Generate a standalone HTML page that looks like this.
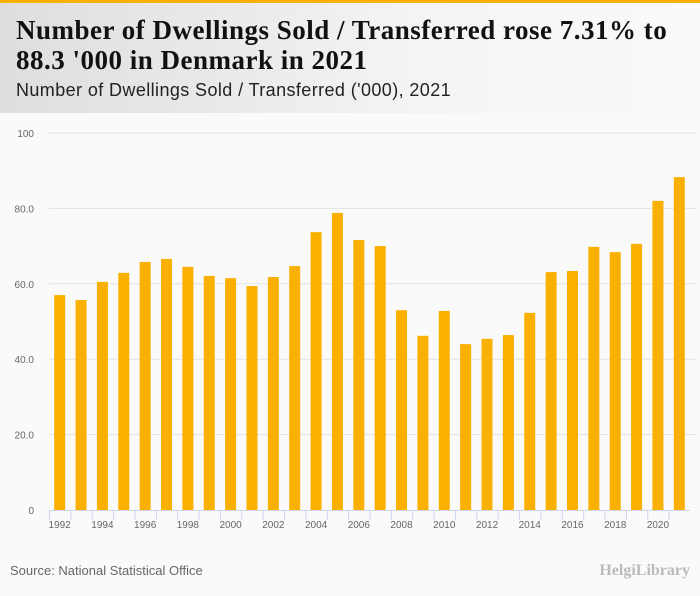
<!DOCTYPE html>
<html><head><meta charset="utf-8"><style>
body{margin:0;width:700px;height:596px;background:#fafafa;font-family:"Liberation Sans",sans-serif;overflow:hidden;position:relative}
#hdr{position:absolute;left:0;top:0;width:700px;height:113px;background:linear-gradient(90deg,#dedede,#f4f4f4 60%,#fafafa)}
#bar{position:absolute;left:0;top:0;width:700px;height:3px;background:#f9b000}
#t{position:absolute;left:16px;top:15px;font:bold 27px/30px "Liberation Serif",serif;color:#111;letter-spacing:0.5px;white-space:nowrap}
#st{position:absolute;left:16px;top:80px;font:18px "Liberation Sans",sans-serif;color:#222;letter-spacing:0.4px;white-space:nowrap}
#src{position:absolute;left:10px;top:563px;font:13px "Liberation Sans",sans-serif;color:#666}
#logo{position:absolute;right:10px;top:562px;font:bold 16px "Liberation Serif",serif;color:#bbb}
</style></head><body>
<div id="hdr"></div>
<div id="bar"></div>
<div id="t">Number of Dwellings Sold / Transferred rose 7.31% to<br>88.3 '000 in Denmark in 2021</div>
<div id="st">Number of Dwellings Sold / Transferred ('000), 2021</div>
<svg id="c" width="700" height="596" style="position:absolute;left:0;top:0"></svg>
<div id="src">Source: National Statistical Office</div>
<div id="logo">HelgiLibrary</div>
<script>
const years=[1992,1993,1994,1995,1996,1997,1998,1999,2000,2001,2002,2003,2004,2005,2006,2007,2008,2009,2010,2011,2012,2013,2014,2015,2016,2017,2018,2019,2020,2021];
const values=[57.0,55.7,60.5,62.9,65.8,66.6,64.5,62.1,61.5,59.4,61.8,64.7,73.7,78.8,71.6,70.0,53.0,46.2,52.8,44.0,45.4,46.4,52.3,63.1,63.4,69.8,68.4,70.6,82.0,88.3];
const yTicks=[0,20,40,60,80,100];
const yTickLabels=["0","20.0","40.0","60.0","80.0","100"];
const NS="http://www.w3.org/2000/svg",svg=document.getElementById('c');
const L=49,R=690,T=133,B=510;
const band=(R-L)/years.length;
const y=v=>B-(v/100)*(B-T);
const x=i=>L+i*band;
function mk(tag,a){const e=document.createElementNS(NS,tag);for(const k in a)e.setAttribute(k,a[k]);svg.appendChild(e);return e;}
yTicks.forEach((t,i)=>{
 if(t>0){const g=mk('line',{x1:L,x2:697,y1:y(t),y2:y(t),stroke:'#e2e2e2','stroke-width':1});
 
 }
 const tx=mk('text',{x:34,y:y(t)+4,'text-anchor':'end','font-size':10,fill:'#666','font-family':'Liberation Sans'});
 tx.textContent=yTickLabels[i];
 
 
});
values.forEach((v,i)=>{
 const r=mk('rect',{x:x(i)+band/2-5.5,y:y(v),width:11,height:B-y(v),fill:'#f9b000'});
 
 
});
const ax=mk('line',{x1:L,x2:R,y1:B+0.5,y2:B+0.5,stroke:'#ccd6eb'});


years.forEach((yr,i)=>{
 const tk=mk('line',{x1:x(i)+0.5,x2:x(i)+0.5,y1:B,y2:B+10,stroke:'#ccd6eb'});
 
 
 if(i%2===0){const tx=mk('text',{x:x(i)+band/2,y:B+18,'text-anchor':'middle','font-size':10,fill:'#666','font-family':'Liberation Sans'});
 tx.textContent=yr;
 
 }
});
</script>
</body></html>
